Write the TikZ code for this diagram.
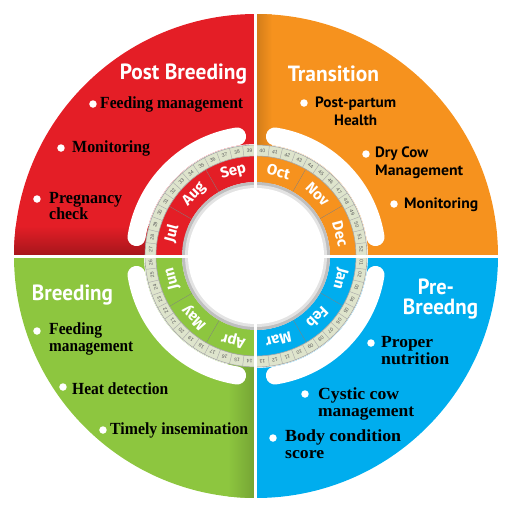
\documentclass[tikz,border=0pt]{standalone}
\usepackage{fontspec}
\usepackage{graphicx}
\setmainfont{Liberation Serif}
\newfontfamily\headfont{PT Sans}
\newfontfamily\monthfont{Fira Sans}
\newfontfamily\weekfont{Liberation Sans}
\usetikzlibrary{calc}

\definecolor{redq}{RGB}{228,30,38}
\definecolor{orangeq}{RGB}{246,146,30}
\definecolor{greenq}{RGB}{141,198,63}
\definecolor{blueq}{RGB}{0,173,238}
\definecolor{ringcol}{RGB}{222,228,204}

\newcommand{\fitw}[2]{\resizebox{#1pt}{\height}{#2}}

\tikzset{
	phase/.style={font=\headfont\bfseries\fontsize{22}{22}\selectfont,text=white,inner sep=0pt,anchor=base},
	item/.style={font=\bfseries\fontsize{17}{17}\selectfont,inner sep=0pt,anchor=base west},
	sitem/.style={font=\headfont\bfseries\fontsize{15}{15}\selectfont,inner sep=0pt,anchor=base west},
	bullet/.style={circle,fill=white,inner sep=0pt,minimum size=7.5pt},
	month/.style={font=\monthfont\bfseries\fontsize{15}{15}\selectfont,text=white,inner sep=0pt},
	week/.style={font=\weekfont\fontsize{5}{5}\selectfont,text=black!65,inner sep=0pt},
	slot/.style={white,line width=18pt,line cap=round}
}

\begin{document}
\begin{tikzpicture}[x=1pt,y=1pt]
	\useasboundingbox (-256,-256) rectangle (256,256);
	% quadrants
	\foreach \a/\col in {0/orangeq,90/redq,180/greenq,270/blueq}
		\fill[\col] (\a:112) arc[start angle=\a,end angle=\a+90,radius=112]
			-- (\a+90:242) arc[start angle=\a+90,end angle=\a,radius=242] -- cycle;
	% darker edges
	\begin{scope}
		\clip (-242,0) rectangle (0,242);
		\clip (0,0) circle (242);
		\shade[top color=redq,bottom color=redq!72!black] (-242,0) rectangle (0,30);
	\end{scope}
	\begin{scope}
		\clip (-242,-242) rectangle (0,0);
		\clip (0,0) circle (242);
		\shade[left color=greenq,right color=greenq!82!black] (-28,-242) rectangle (0,0);
	\end{scope}
	\begin{scope}
		\clip (0,0) rectangle (242,242);
		\clip (0,0) circle (242);
		\shade[left color=orangeq!85!black,right color=orangeq] (0,0) rectangle (16,242);
	\end{scope}
	\foreach \a in {0,90,180,270}
		\draw[slot] (\a+9:121) arc[start angle=\a+9,end angle=\a+81,radius=121];
	% week ring
	\fill[ringcol,even odd rule] (0,0) circle (111) (0,0) circle (100);
	\foreach \k in {1,...,52}
		\draw[gray!70,line width=0.4pt] (-\k*90/13:100) -- (-\k*90/13:111);
	% month band
	\foreach \m/\col [count=\i from 0] in {Jan/blueq,Feb/blueq,Mar/blueq,Apr/greenq,May/greenq,Jun/greenq,Jul/redq,Aug/redq,Sep/redq,Oct/orangeq,Nov/orangeq,Dec/orangeq}{
		\pgfmathsetmacro\sa{-30*\i}
		\pgfmathsetmacro\ea{-30*\i-30}
		\fill[\col] (\sa:74) arc[start angle=\sa,end angle=\ea,radius=74]
			-- (\ea:100) arc[start angle=\ea,end angle=\sa,radius=100] -- cycle;
		\draw[gray,line width=0.9pt] (\ea:74) -- (\ea:100);
	}
	\draw[gray!70,line width=0.6pt] (0,0) circle (111) (0,0) circle (100);
	% inner shadow
	\fill[gray!50] (0,0) circle (74);
	\fill[gray!22] (0,0) circle (71);
	\fill[white] (0,0) circle (68);
	% gaps between quadrants
	\draw[white,line width=3pt] (-250,0) -- (250,0);
	\draw[white,line width=3pt] (0,-250) -- (0,250);
	% labels of ring
	\foreach \k in {1,...,52}{
		\pgfmathsetmacro\ang{-(\k-0.5)*90/13}
		\node[week,rotate=\ang-90] (w\k) at (\ang:105.5) {\ifnum\k<10 0\fi\k};
	}
	\foreach \m [count=\i from 0] in {Jan,Feb,Mar,Apr,May,Jun,Jul,Aug,Sep,Oct,Nov,Dec}{
		\pgfmathsetmacro\ang{-30*\i-15}
		\node[month,rotate=\ang-90] (\m) at (\ang:87) {\m};
	}

	% Post Breeding
	\node[phase] (postbr) at (-72.5,177) {\fitw{127}{Post Breeding}};
	\node[bullet] (pb1) at (-163,152) {};
	\node[item] (pbt1) at (-156,147.5) {\fitw{143}{Feeding management}};
	\node[bullet] (pb2) at (-195,108) {};
	\node[item] (pbt2) at (-184,103.5) {\fitw{78}{Monitoring}};
	\node[bullet] (pb3) at (-219,57) {};
	\node[item] (pbt3) at (-207,53) {\fitw{73}{Pregnancy}};
	\node[item] (pbt3b) at (-207,36.5) {\fitw{39}{check}};

	% Transition
	\node[phase] (trans) at (77.5,175) {\fitw{91}{Transition}};
	\node[bullet] (tr1) at (48,153) {};
	\node[sitem] (trt1) at (59,149) {\fitw{81}{Post-partum}};
	\node[sitem] (trt1b) at (78,131) {\fitw{43}{Health}};
	\node[bullet] (tr2) at (110,102) {};
	\node[sitem] (trt2) at (119,99) {\fitw{53}{Dry Cow}};
	\node[sitem] (trt2b) at (119,80.5) {\fitw{88}{Management}};
	\node[bullet] (tr3) at (138,52) {};
	\node[sitem] (trt3) at (148,48) {\fitw{74}{Monitoring}};

	% Breeding
	\node[phase] (breed) at (-183.5,-44) {\fitw{81}{Breeding}};
	\node[bullet] (br1) at (-219,-75) {};
	\node[item] (brt1) at (-207,-78) {\fitw{53}{Feeding}};
	\node[item] (brt1b) at (-207,-95.5) {\fitw{84}{management}};
	\node[bullet] (br2) at (-193,-131) {};
	\node[item] (brt2) at (-184,-138) {\fitw{96}{Heat detection}};
	\node[bullet] (br3) at (-153,-174) {};
	\node[item] (brt3) at (-146,-178) {\fitw{138}{Timely insemination}};

	% Pre-Breedng
	\node[phase] (prebr) at (180,-38) {\fitw{36}{Pre-}};
	\node[phase] (prebrb) at (184.5,-58) {\fitw{75}{Breedng}};
	\node[bullet] (pr1) at (115,-87) {};
	\node[item] (prt1) at (125,-91) {\fitw{52}{Proper}};
	\node[item] (prt1b) at (125,-108) {\fitw{68}{nutrition}};
	\node[bullet] (pr2) at (49,-138) {};
	\node[item] (prt2) at (62,-143) {\fitw{81}{Cystic cow}};
	\node[item] (prt2b) at (62,-160) {\fitw{96}{management}};
	\node[bullet] (pr3) at (17,-182) {};
	\node[item] (prt3) at (29,-185) {\fitw{116}{Body condition}};
	\node[item] (prt3b) at (29,-202) {\fitw{39}{score}};
\end{tikzpicture}
\end{document}
